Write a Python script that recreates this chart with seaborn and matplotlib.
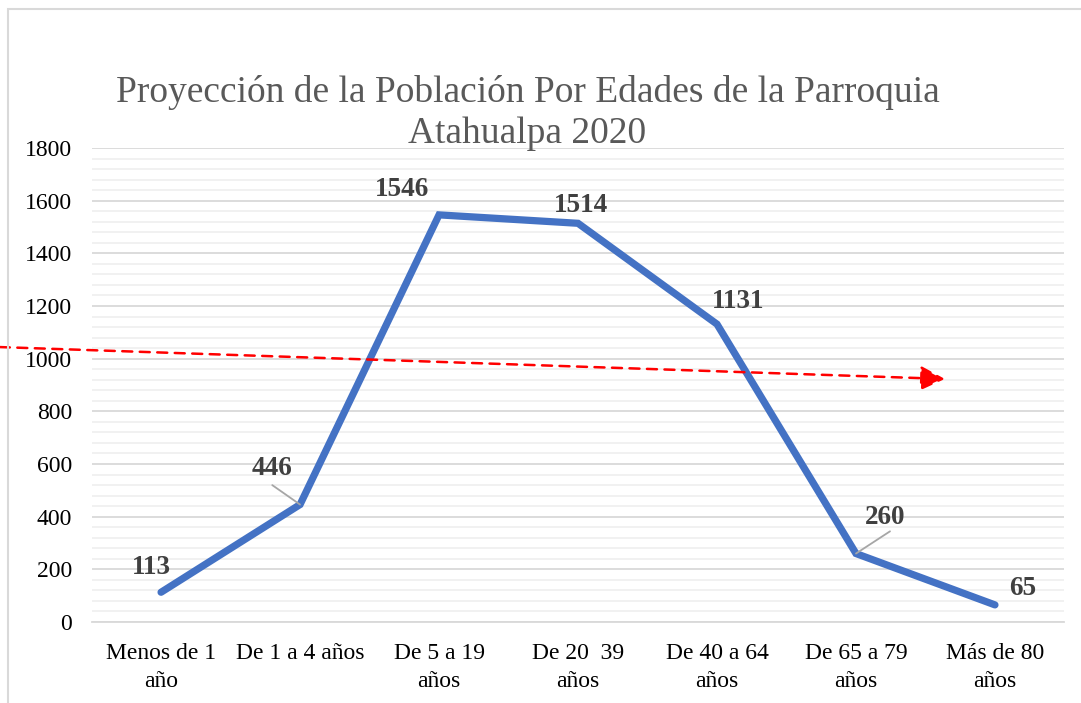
import matplotlib
matplotlib.use("Agg")
import matplotlib.pyplot as plt
import seaborn as sns
import pandas as pd
from matplotlib.patches import Rectangle
from matplotlib.ticker import MultipleLocator

# Population by age group, Parroquia Atahualpa 2020
categories = ["Menos de 1\naño", "De 1 a 4 años", "De 5 a 19\naños", "De 20  39\naños",
              "De 40 a 64\naños", "De 65 a 79\naños", "Más de 80\naños"]
population = [113, 446, 1546, 1514, 1131, 260, 65]
# Hand-drawn trend arrow (start / end values)
trend_values = [1044, 923]
yticks = [0, 200, 400, 600, 800, 1000, 1200, 1400, 1600, 1800]

sns.set_theme(style="white")
plt.rcParams["font.family"] = ["Liberation Serif", "DejaVu Serif"]

df = pd.DataFrame({"pos": range(len(categories)), "value": population})

fig = plt.figure(figsize=(10.81, 7.03), dpi=100)
ax = fig.add_axes([0.0847, 0.1152, 0.9, 0.6743])

# outer chart frame
fig.patches.append(Rectangle((0.0078, -0.05), 1.2, 1.037, transform=fig.transFigure,
                             fill=False, edgecolor="#d9d9d9", linewidth=1.5))

sns.lineplot(data=df, x="pos", y="value", ax=ax, color="#4472C4", linewidth=5.2,
             solid_capstyle="round", solid_joinstyle="miter")

ax.set_xlim(-0.5, len(categories) - 0.5)
ax.set_ylim(0, 1800)
ax.set_yticks(yticks)
ax.yaxis.set_minor_locator(MultipleLocator(40))
ax.grid(axis="y", which="major", color="#d9d9d9", linewidth=1.3)
ax.grid(axis="y", which="minor", color="#f0f0f0", linewidth=1.3)
ax.set_axisbelow(True)
ax.set_xticks(range(len(categories)))
ax.set_xticklabels(categories, fontsize=17, color="#000000", linespacing=1.45)
ax.tick_params(axis="y", labelsize=17, colors="#000000", pad=14, length=0, which="both")
ax.tick_params(axis="x", pad=15, length=0)
ax.set_xlabel("")
ax.set_ylabel("")
for s in ["top", "right", "left"]:
    ax.spines[s].set_visible(False)
ax.spines["bottom"].set_color("#d9d9d9")
ax.spines["bottom"].set_linewidth(1.3)

# value labels (offsets in points)
offsets = [(-7, 18), (-20, 26), (-27, 18), (2, 13), (15, 16), (21, 26), (20, 12)]
# leader lines for labels moved away from their points (start offset, points)
leader_starts = [None, (-20, 14), None, None, None, (24.5, 16), None]
for i, (v, off, lead) in enumerate(zip(population, offsets, leader_starts)):
    if lead is not None:
        ax.annotate("", xy=(i, v), xytext=lead, textcoords="offset points",
                    arrowprops=dict(arrowstyle="-", color="#a6a6a6", linewidth=1.3,
                                    shrinkA=0, shrinkB=0))
    ax.annotate(str(v), xy=(i, v), xytext=off, textcoords="offset points",
                ha="center", va="center", fontsize=19.5, fontweight="bold",
                color="#404040")

# red dashed trend arrow
ax.annotate("", xy=(5.64, trend_values[1]), xytext=(-1.16, trend_values[0]),
            xycoords="data", textcoords="data", annotation_clip=False,
            arrowprops=dict(arrowstyle="-|>,head_length=1.0,head_width=0.5",
                            mutation_scale=15, color="#ff0000", linewidth=1.8,
                            linestyle=(0, (4, 3)), shrinkA=0, shrinkB=0))

fig.text(0.488, 0.839, "Proyección de la Población Por Edades de la Parroquia\nAtahualpa 2020",
         ha="center", va="center", fontsize=27, color="#595959", linespacing=1.25)

fig.savefig("out.png", dpi=100)
